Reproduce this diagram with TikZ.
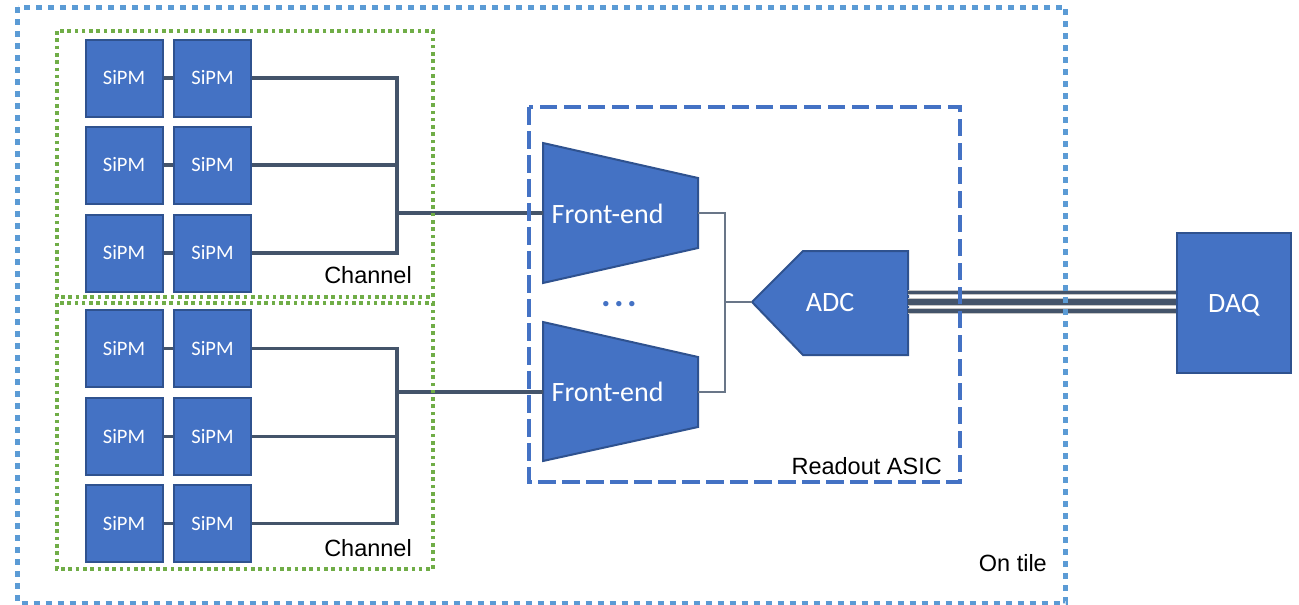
\documentclass[tikz,border=0pt]{standalone}
\usepackage{fontspec}
\setmainfont{Liberation Sans}
\newfontfamily\carlito{Carlito}
\definecolor{fillblue}{HTML}{4472C4}
\definecolor{edgeblue}{HTML}{2F528F}
\definecolor{wirecol}{HTML}{44546A}
\definecolor{tileblue}{HTML}{5B9BD5}
\definecolor{chgreen}{HTML}{70AD47}
\tikzset{
  blockfill/.style={draw=edgeblue, line width=2, fill=fillblue},
  sipm/.style={blockfill, minimum size=77, inner sep=0, text=white,
    font=\carlito\fontsize{20.5}{24}\selectfont},
  whitetext/.style={text=white, inner sep=0, font=\carlito\fontsize{28}{32}\selectfont},
  labeltext/.style={inner sep=0, font=\fontsize{23.5}{28}\selectfont},
  wire/.style={draw=wirecol, line width=3.5},
  mainwire/.style={draw=wirecol, line width=4.5},
  thinwire/.style={draw=wirecol!80, line width=1.3},
  chbox/.style={draw=chgreen, line width=3.6, dash pattern=on 3.6 off 3.7},
  asicbox/.style={draw=fillblue, line width=4.5, dash pattern=on 17.5 off 6.5},
  tilebox/.style={draw=tileblue, line width=5, dash pattern=on 6 off 6},
}
\begin{document}
\begin{tikzpicture}[x=1pt, y=-1pt]
\useasboundingbox (0,0) rectangle (1299,605);

% ---- SiPM arrays, two channels of 3 x 2 ----
\foreach \ch/\ya/\yb/\yc in {A/78/165/253, B/348.5/436.5/523.5}{
  \foreach \r/\y in {1/\ya, 2/\yb, 3/\yc}{
    \node[sipm] (s\ch\r a) at (124,\y) {SiPM};
    \node[sipm] (s\ch\r b) at (212.5,\y) {SiPM};
    \draw[wire] (s\ch\r a.east) -- (s\ch\r b.west);
    \coordinate (bus\ch\r) at (397,\y);
    \draw[wire] (s\ch\r b.east) -- (bus\ch\r);
  }
  \draw[wire, line cap=rect] (bus\ch1) -- (bus\ch3);
}
\coordinate (outA) at (397,213);
\coordinate (outB) at (397,392);

% ---- front-end amplifiers ----
\draw[blockfill] (543,143) -- (698,178) -- (698,248) -- (543,283) -- cycle;
\draw[blockfill] (543,322) -- (698,357) -- (698,427) -- (543,461) -- cycle;
\coordinate (fe1in) at (543,213);
\coordinate (fe1out) at (698,213);
\coordinate (fe2in) at (543,392);
\coordinate (fe2out) at (698,392);
\node[whitetext, anchor=base west] (fe1t) at (551.5,223.3) {Front-end};
\node[whitetext, anchor=base west] (fe2t) at (551.5,401.7) {Front-end};
\node[inner sep=0, text=fillblue, anchor=base,
  font=\carlito\fontsize{36}{40}\selectfont\bfseries] (dots) at (619,306.5)
  {.\kern3.4pt.\kern3.4pt.};

\draw[mainwire] (outA) -- (fe1in);
\draw[mainwire] (outB) -- (fe2in);

% ---- ADC ----
\draw[blockfill] (752,302) -- (803,251) -- (908,251) -- (908,355) -- (803,355) -- cycle;
\coordinate (adcin) at (752,302);
\node[whitetext] (adct) at (830,303) {ADC};

\coordinate (mux) at (725,302);
\draw[thinwire] (fe1out) -| (mux) |- (fe2out);
\draw[thinwire] (mux) -- (adcin);

% ---- DAQ ----
\node[blockfill, minimum width=114, minimum height=140, text depth=0pt,
  whitetext] (daq) at (1234,303) {DAQ};

% readout link ADC -> DAQ
\foreach \y/\w in {292.3/3.2, 302/6.5, 311/3.5}{
  \draw[draw=gray!45, line width=\w+1.6] (908,\y) -- (daq.west |- 0,\y);
  \draw[draw=wirecol, line width=\w] (908,\y) -- (daq.west |- 0,\y);
}

% ---- grouping boxes ----
\draw[chbox] (57,31) rectangle (433,297);
\draw[chbox] (57,303) rectangle (433,569);
\draw[asicbox] (529,107) rectangle (960,482);
\draw[tilebox] (17.5,7) rectangle (1065.5,603);

\node[labeltext, anchor=base east] (ch1) at (412,283.3) {Channel};
\node[labeltext, anchor=base east] (ch2) at (412,556) {Channel};
\node[labeltext, anchor=base east] (asic) at (942,474) {Readout ASIC};
\node[labeltext, anchor=base east] (tile) at (1047,571.5) {On tile};
\end{tikzpicture}
\end{document}
